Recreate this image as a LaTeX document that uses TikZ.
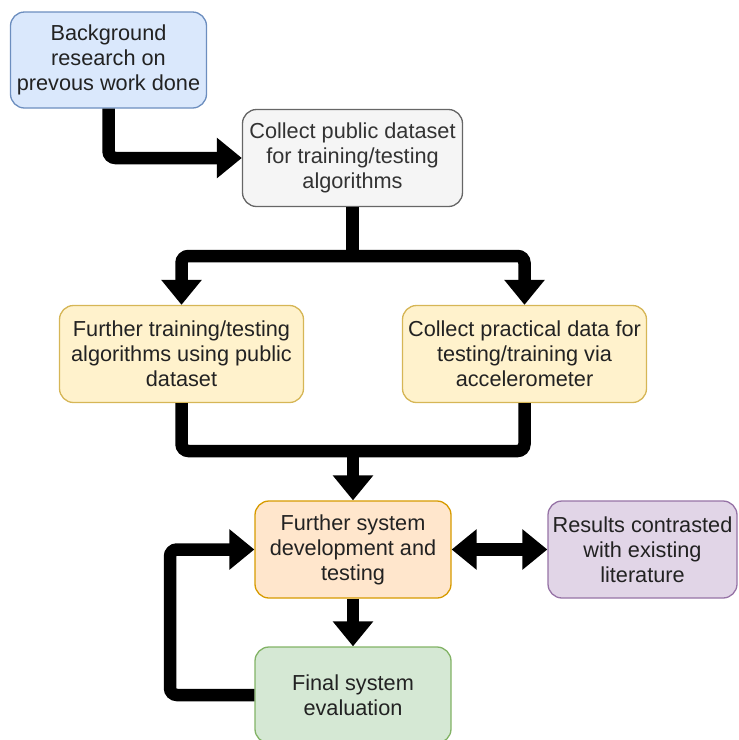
\documentclass[tikz,border=0pt]{standalone}
\usepackage{fontspec}
\setmainfont{Liberation Sans}
\usetikzlibrary{arrows.meta}

\definecolor{txt}{HTML}{222222}
\definecolor{txtgray}{HTML}{333333}
\definecolor{bluefill}{HTML}{DAE8FC}\definecolor{bluedraw}{HTML}{6C8EBF}
\definecolor{grayfill}{HTML}{F5F5F5}\definecolor{graydraw}{HTML}{666666}
\definecolor{yelfill}{HTML}{FFF2CC}\definecolor{yeldraw}{HTML}{D6B656}
\definecolor{orfill}{HTML}{FFE6CC}\definecolor{ordraw}{HTML}{D79B00}
\definecolor{grfill}{HTML}{D5E8D4}\definecolor{grdraw}{HTML}{82B366}
\definecolor{pufill}{HTML}{E1D5E7}\definecolor{pudraw}{HTML}{9673A6}

\tikzset{
  box/.style={draw, rounded corners=14pt, line width=1.3pt, align=center,
    inner sep=0pt, text=txt,
    font=\fontsize{21.7}{25}\selectfont},
  thick line/.style={line width=12.5pt, rounded corners=7pt},
  flow/.style={thick line, -{Triangle[length=25pt,width=39pt]}},
  flowboth/.style={thick line,
    {Triangle[length=25pt,width=39pt]}-{Triangle[length=25pt,width=39pt]}},
}

\begin{document}
\begin{tikzpicture}[x=1pt,y=-1pt]
  \useasboundingbox (0,0) rectangle (739,740);
  \clip (0,0) rectangle (739,740);

  % process steps
  \node[box, fill=bluefill, draw=bluedraw, minimum width=196pt, minimum height=96pt]
    (bg) at (108.5,60) {Background\\research on\\prevous work done};
  \node[box, fill=grayfill, draw=graydraw, text=txtgray, minimum width=220pt, minimum height=97pt]
    (pub) at (352.5,158) {Collect public dataset\\for training/testing\\algorithms};
  \node[box, fill=yelfill, draw=yeldraw, minimum width=244pt, minimum height=97pt]
    (train) at (181.5,354) {Further training/testing\\algorithms using public\\dataset};
  \node[box, fill=yelfill, draw=yeldraw, minimum width=244pt, minimum height=97pt]
    (acc) at (524.5,354) {Collect practical data for\\testing/training via\\accelerometer};
  \node[box, fill=orfill, draw=ordraw, minimum width=196pt, minimum height=97pt]
    (dev) at (353,549.5) {Further system\\development and\\testing};
  \node[box, fill=pufill, draw=pudraw, minimum width=189pt, minimum height=97pt]
    (lit) at (642.5,549.5) {Results contrasted\\with existing\\literature};
  \node[box, fill=grfill, draw=grdraw, minimum width=196pt, minimum height=96pt]
    (eval) at (353,695) {Final system\\evaluation};

  % junction points of the thick connectors
  \coordinate (split) at (352.5,256);
  \coordinate (merge) at (353,451);
  \coordinate (loop) at (170,695);

  % connectors
  \draw[flow] (bg.south) |- (pub.west);
  % fan-out to the two data branches
  \draw[thick line] (pub.south) -- (split);
  \draw[flowboth] (train.north) |- (split) -| (acc.north);
  % fan-in to system development
  \draw[thick line] (train.south) |- (merge) -| (acc.south);
  \draw[flow] (merge) -- (dev.north);
  \draw[flow] (dev.south) -- (eval.north);
  \draw[flow] (eval.west) -- (loop) |- (dev.west);
  \draw[flowboth] (dev.east) -- (lit.west);
\end{tikzpicture}
\end{document}
